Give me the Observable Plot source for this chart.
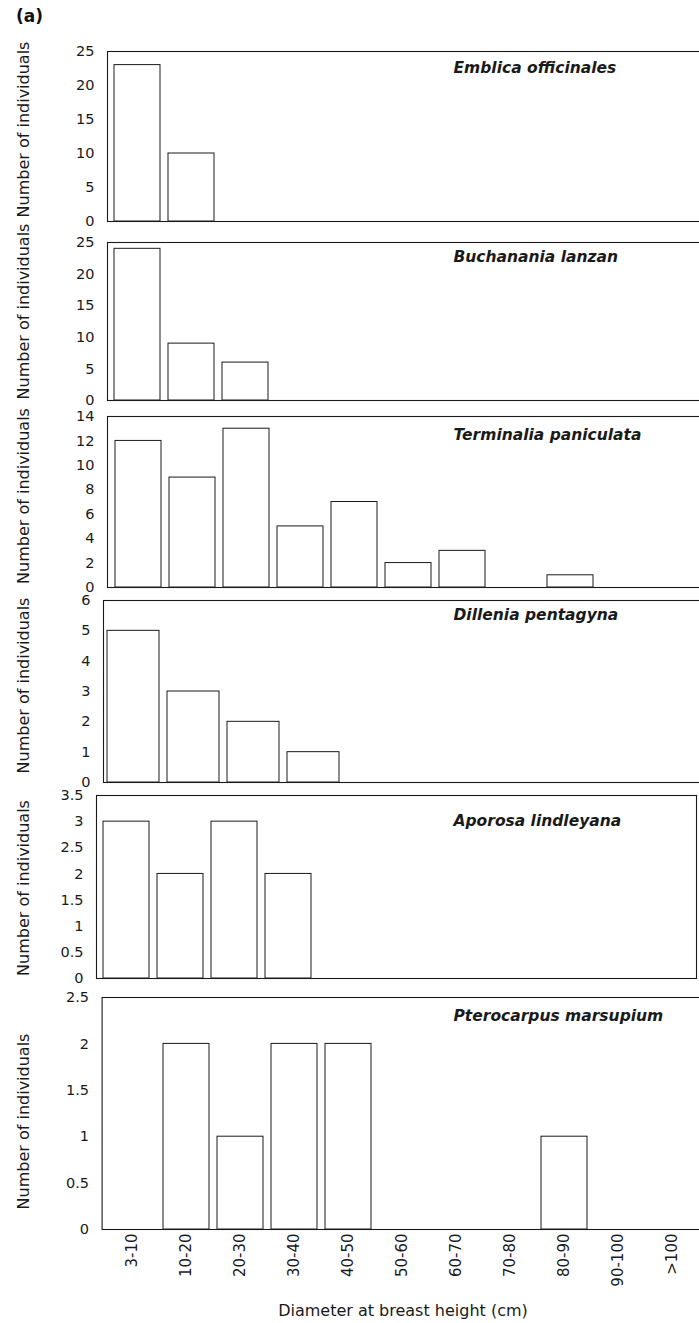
<!DOCTYPE html>
<html><head><meta charset="utf-8">
<script src="https://cdn.jsdelivr.net/npm/d3@7"></script>
<script src="https://cdn.jsdelivr.net/npm/@observablehq/plot@0.6"></script>
<style>
html,body{margin:0;padding:0;background:#fff;}
#wrap{position:relative;width:699px;height:1323px;overflow:hidden;background:#fff;}
.panel{position:absolute;left:0;width:699px;}
#tag{position:absolute;left:16px;top:6px;font:bold 17px "DejaVu Sans";color:#111;}
</style></head><body>
<div id="wrap"><div id="tag">(a)</div></div>
<script>
// ---- data ----
const classes = ["3-10","10-20","20-30","30-40","40-50","50-60","60-70","70-80","80-90","90-100",">100"];
const species = ["Emblica officinales","Buchanania lanzan","Terminalia paniculata","Dillenia pentagyna","Aporosa lindleyana","Pterocarpus marsupium"];
const emblica     = [23,10,0,0,0,0,0,0,0,0,0];
const buchanania  = [24,9,6,0,0,0,0,0,0,0,0];
const terminalia  = [12,9,13,5,7,2,3,0,1,0,0];
const dillenia    = [5,3,2,1,0,0,0,0,0,0,0];
const aporosa     = [3,2,3,2,0,0,0,0,0,0,0];
const pterocarpus = [0,2,1,2,2,0,0,0,1,0,0];
const ticks25  = [0,5,10,15,20,25];
const ticks14  = [0,2,4,6,8,10,12,14];
const ticks6   = [0,1,2,3,4,5,6];
const ticks35  = [0,0.5,1,1.5,2,2.5,3,3.5];
const ticks25b = [0,0.5,1,1.5,2,2.5];
const yTitle = "Number of individuals";
const xTitle = "Diameter at breast height (cm)";

// ---- layout ----
const series = [emblica, buchanania, terminalia, dillenia, aporosa, pterocarpus];
const tickSets = [ticks25, ticks25, ticks14, ticks6, ticks35, ticks25b];
const layout = [
  {T:51,  B:221,  L:107,   R:707.6, base:22, ty:-7},
  {T:242, B:400,  L:107,   R:708,   base:20, ty:-10},
  {T:416, B:587,  L:107,   R:709,   base:24, ty:-6},
  {T:600, B:782,  L:103,   R:763,   base:20, ty:-6},
  {T:795, B:978,  L:96,    R:696,   base:31, ty:1},
  {T:997, B:1229, L:101.6, R:703.3, base:24, ty:8}
];
const ink = "#1a1a1a";
const wrap = document.getElementById("wrap");

layout.forEach((g, i) => {
  const last = i === layout.length - 1;
  const mt = 12, mb = last ? 94 : 12;
  const height = mt + (g.B - g.T) + mb;
  const data = classes.map((c, j) => ({cls: c, n: series[i][j]})).filter(d => d.n > 0);
  const ticks = tickSets[i];
  const marks = [
    Plot.frame({stroke: ink, strokeWidth: 1.1}),
    Plot.barY(data, {x: "cls", y: "n", fill: "white", stroke: ink, strokeWidth: 1}),
    Plot.axisY({ticks, tickSize: 0, tickPadding: 13, tickFormat: d3.format("~g"), label: null, fontSize: 14.5, fill: ink}),
    Plot.text([yTitle], {text: d => d, frameAnchor: "left", rotate: -90, dx: 17 - g.L, dy: g.ty, lineAnchor: "top", textAnchor: "middle", fontSize: 16, fill: ink}),
    Plot.text([species[i]], {text: d => d, frameAnchor: "top-left", dx: 453 - g.L, dy: g.base - 11.2, lineAnchor: "top", textAnchor: "start", fontSize: 15.5, fontWeight: "bold", fontStyle: "italic", fill: ink})
  ];
  if (last) {
    marks.push(Plot.axisX({tickRotate: -90, tickSize: 0, tickPadding: 4, label: null, fontSize: 15, fill: ink}));
    marks.push(Plot.text([xTitle], {text: d => d, frameAnchor: "bottom", dy: 75, lineAnchor: "top", textAnchor: "middle", fontSize: 16, fill: ink}));
  }
  const chart = Plot.plot({
    width: 699,
    height,
    marginTop: mt,
    marginBottom: mb,
    marginLeft: g.L,
    marginRight: 699 - g.R,
    style: {fontFamily: "DejaVu Sans", fontSize: "15px", background: "transparent", overflow: "visible", color: ink},
    x: {type: "band", domain: classes, paddingInner: 0.14, paddingOuter: 0.07, axis: last ? undefined : null},
    y: {domain: [0, ticks[ticks.length - 1]]},
    marks
  });
  const div = document.createElement("div");
  div.className = "panel";
  div.style.top = (g.T - mt) + "px";
  div.appendChild(chart);
  wrap.appendChild(div);
});
</script>
</body></html>
